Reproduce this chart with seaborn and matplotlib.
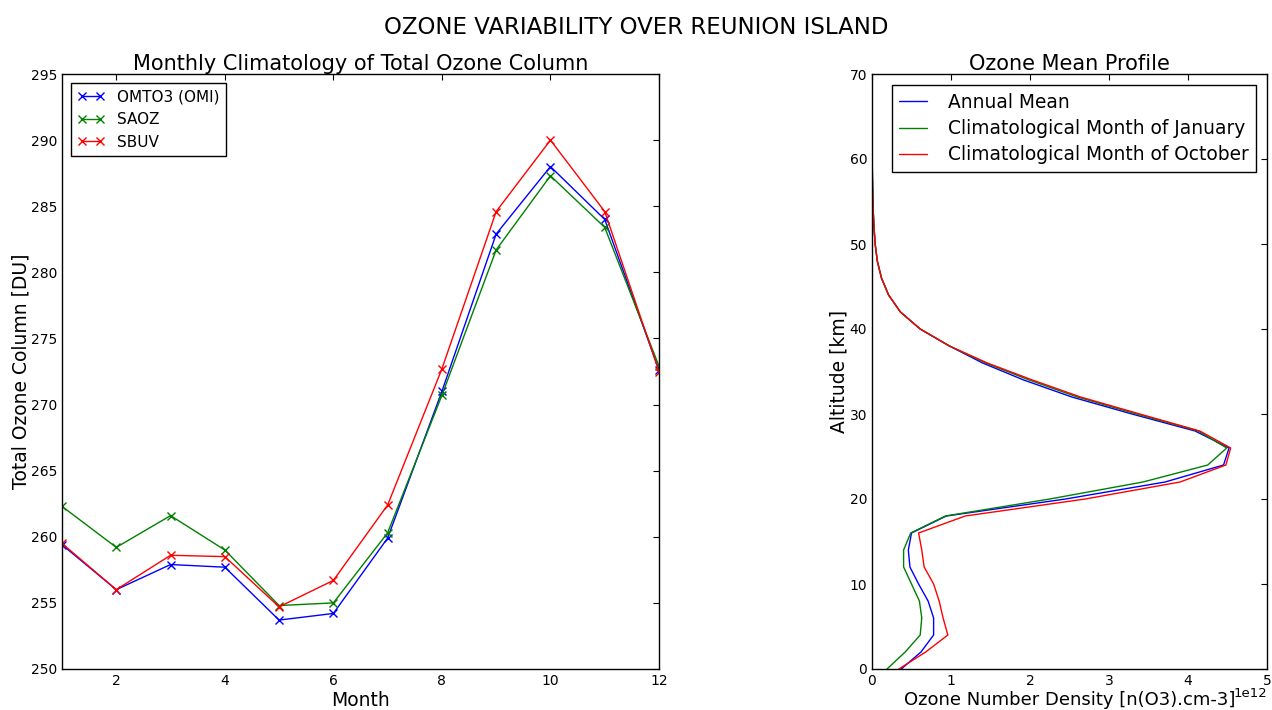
import numpy as np
import pandas as pd
import matplotlib
matplotlib.use("Agg")
import matplotlib.pyplot as plt
import seaborn as sns

months = [1, 2, 3, 4, 5, 6, 7, 8, 9, 10, 11, 12]
omi = [259.4, 256.0, 257.9, 257.7, 253.7, 254.2, 259.9, 271.0, 282.9, 288.0, 284.0, 272.6]
saoz = [262.3, 259.2, 261.6, 259.0, 254.8, 255.0, 260.3, 270.7, 281.7, 287.3, 283.4, 272.9]
sbuv = [259.5, 256.0, 258.6, 258.5, 254.7, 256.7, 262.4, 272.7, 284.6, 290.0, 284.6, 272.5]

altitude = [0, 2, 4, 6, 8, 10, 12, 14, 16, 18, 20, 22, 24, 26, 28, 30, 32, 34, 36,
            38, 40, 42, 44, 46, 48, 50, 52, 54, 56, 58, 60, 62]
annual = [0.37, 0.62, 0.78, 0.78, 0.71, 0.59, 0.48, 0.46, 0.50, 0.94, 2.45, 3.71, 4.45,
          4.52, 4.09, 3.29, 2.53, 1.92, 1.40, 0.98, 0.61, 0.36, 0.21, 0.12, 0.067,
          0.040, 0.025, 0.015, 0.009, 0.005, 0.003, 0.001]
january = [0.19, 0.42, 0.61, 0.63, 0.60, 0.50, 0.40, 0.40, 0.49, 0.93, 2.25, 3.43, 4.25,
           4.49, 4.13, 3.35, 2.60, 1.99, 1.44, 0.98, 0.61, 0.36, 0.21, 0.12, 0.067,
           0.040, 0.025, 0.015, 0.009, 0.005, 0.003, 0.001]
october = [0.34, 0.68, 0.96, 0.90, 0.85, 0.78, 0.66, 0.63, 0.59, 1.18, 2.70, 3.90, 4.48,
           4.54, 4.15, 3.39, 2.64, 2.03, 1.46, 0.98, 0.61, 0.36, 0.21, 0.12, 0.067,
           0.040, 0.025, 0.015, 0.009, 0.005, 0.003, 0.001]
scale = 1e12

sns.set_style("white")
plt.rcParams['font.family'] = ['DejaVu Sans']
plt.rcParams['text.color'] = 'black'
plt.rcParams['axes.labelcolor'] = 'black'
plt.rcParams['xtick.color'] = 'black'
plt.rcParams['ytick.color'] = 'black'
plt.rcParams['xtick.direction'] = 'in'
plt.rcParams['ytick.direction'] = 'in'
plt.rcParams['xtick.top'] = True
plt.rcParams['ytick.right'] = True
plt.rcParams['xtick.major.size'] = 4
plt.rcParams['ytick.major.size'] = 4
plt.rcParams['xtick.major.width'] = 0.8
plt.rcParams['ytick.major.width'] = 0.8
plt.rcParams['axes.edgecolor'] = 'black'
plt.rcParams['axes.linewidth'] = 1.0

fig = plt.figure(figsize=(12.72, 7.10), dpi=100)
ax1 = fig.add_axes([62/1272, 1-669/710, (659-62)/1272, (669-74)/710])
ax2 = fig.add_axes([872/1272, 1-669/710, (1267-872)/1272, (669-74)/710])

series1 = [("OMTO3 (OMI)", omi, "#0000ff"), ("SAOZ", saoz, "#008000"), ("SBUV", sbuv, "#ff0000")]
for name, vals, col in series1:
    df = pd.DataFrame({"Month": months, "Ozone": vals})
    sns.lineplot(data=df, x="Month", y="Ozone", color=col, marker="x",
                 markersize=5.5, markeredgewidth=1.0, markeredgecolor=col,
                 linewidth=1.0, ax=ax1, label=name)
ax1.set_xlim(1, 12)
ax1.set_ylim(250, 295)
ax1.set_xticks([2, 4, 6, 8, 10, 12])
ax1.set_yticks(np.arange(250, 296, 5))
ax1.tick_params(labelsize=10)
ax1.set_xlabel("Month", fontsize=13.5, labelpad=2.5)
ax1.set_ylabel("Total Ozone Column [DU]", fontsize=13.5, labelpad=0.5)
ax1.set_title("Monthly Climatology of Total Ozone Column", fontsize=15, pad=3)
leg1 = ax1.legend(loc="upper left", fontsize=11, numpoints=2, fancybox=False,
                  framealpha=1, edgecolor="black", handlelength=1.8,
                  borderaxespad=0.6)
leg1.get_frame().set_linewidth(1.0)

series2 = [("Annual Mean", annual, "#0000ff"),
           ("Climatological Month of January", january, "#008000"),
           ("Climatological Month of October", october, "#ff0000")]
for name, vals, col in series2:
    df = pd.DataFrame({"Altitude": altitude, "Density": [v * scale for v in vals]})
    sns.lineplot(data=df, x="Density", y="Altitude", color=col, sort=False,
                 orient="y", linewidth=1.0, ax=ax2, label=name)
ax2.set_xlim(0, 5 * scale)
ax2.set_ylim(0, 70)
ax2.set_xticks(np.arange(0, 5.1, 1) * scale)
ax2.set_yticks(np.arange(0, 71, 10))
ax2.tick_params(labelsize=10)
ax2.xaxis.get_offset_text().set_visible(False)
ax2.text(1.0, -0.041, "1e12", transform=ax2.transAxes, ha="right", va="center",
         fontsize=9.5)
ax2.set_xlabel("Ozone Number Density [n(O3).cm-3]", fontsize=13.0, labelpad=2.5)
ax2.set_ylabel("Altitude [km]", fontsize=13.5, labelpad=0.5)
ax2.set_title("Ozone Mean Profile", fontsize=15, pad=3)
leg2 = ax2.legend(loc="upper right", fontsize=13.4, fancybox=False, framealpha=1,
                  edgecolor="black", handlelength=1.5, handletextpad=1.1,
                  labelspacing=0.4, borderaxespad=0.6)
leg2.get_frame().set_linewidth(1.0)

fig.suptitle("OZONE VARIABILITY OVER REUNION ISLAND", fontsize=16.5, y=0.978)

fig.savefig("out.png", dpi=100)
